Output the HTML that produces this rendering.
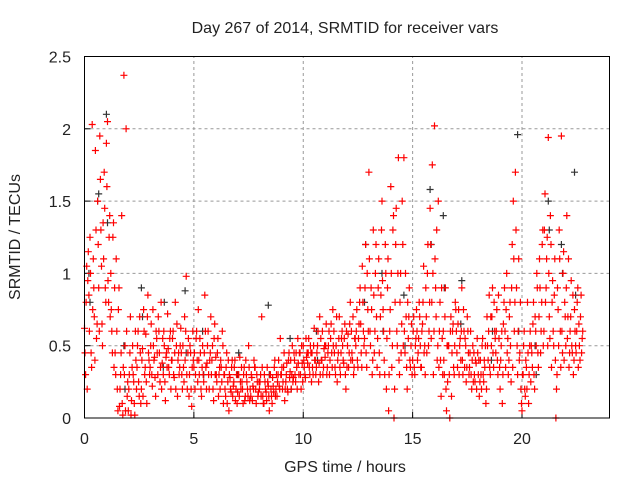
<!DOCTYPE html>
<html><head><meta charset="utf-8"><style>
body{margin:0;background:#fff;}
svg text{font-family:"Liberation Sans",sans-serif;font-size:16px;fill:#222;}
</style></head><body>
<svg id="chart" width="640" height="480" xmlns="http://www.w3.org/2000/svg">
<text x="345" y="33" text-anchor="middle">Day 267 of 2014, SRMTID for receiver vars</text>
<text x="345" y="472" text-anchor="middle">GPS time / hours</text>
<text transform="translate(20,237) rotate(-90)" text-anchor="middle">SRMTID / TECUs</text>
<g id="grid"></g>
<g id="ticks"></g>
<g id="black"></g>
<g id="red"></g>
<rect x="84.5" y="56.5" width="525" height="361.5" fill="none" stroke="#000" stroke-width="1"/>
</svg>
<script>
const xTicks=[0,5,10,15,20];
const yTicks=[0,0.5,1,1.5,2,2.5];
const yTickLabels=["0","0.5","1","1.5","2","2.5"];
const redGroups=[
[0.0,.62,.3,1.05,.95],[0.2,.85,1.25,.45,2.03],[0.4,1.1,.7,1.85,.55],[0.6,1.5,.9,1.95,1.3],[0.8,.65,1.35,1.7,.9],
[1.0,1.9,2.05,.8,1.4],[1.2,1.0,.6,1.25,.35],[1.4,.45,1.1,.2,.75],[1.6,.08,.3,1.4,.02],[1.8,2.37,.5,2.0,.15],
[2.0,.05,.3,.7,.12],[2.2,.5,.25,.02,.4],[2.4,.35,.6,.15,.45],[2.6,.2,.48,.75,.3],[2.8,.58,.1,.85,.4],
[3.0,.35,.65,.22,.5],[3.2,.42,.15,.55,.3],[3.4,.6,.25,.8,.38],[3.6,.3,.5,.12,.45],[3.8,.72,.35,.55,.2],
[4.0,.4,.6,.28,.8],[4.2,.5,.15,.45,.35],[4.4,.62,.3,.5,.25],[4.6,.4,.98,.2,.55],[4.8,.3,.45,.08,.6],
[5.0,.35,.2,.55,.4],[5.2,.75,.3,.45,.15],[5.4,.5,.25,.85,.35],[5.6,.38,.6,.2,.45],[5.8,.3,.5,.12,.65],
[6.0,.42,.25,.55,.3],[6.2,.2,.35,.6,.1],[6.4,.3,.15,.45,.25],[6.6,.05,.28,.18,.4],[6.8,.22,.35,.12,.3],
[7.0,.18,.3,.42,.2],[7.2,.25,.1,.35,.15],[7.4,.3,.2,.5,.12],[7.6,.15,.28,.22,.4],[7.8,.35,.1,.25,.18],
[8.0,.2,.3,.7,.15],[8.2,.1,.25,.18,.35],[8.4,.22,.05,.3,.15],[8.6,.28,.18,.4,.2],[8.8,.15,.3,.22,.55],
[9.0,.3,.2,.35,.12],[9.2,.25,.38,.18,.45],[9.4,.32,.2,.5,.28],[9.6,.4,.25,.35,.55],[9.8,.3,.45,.2,.38],
[10.0,.5,.35,.28,.42],[10.2,.38,.55,.3,.45],[10.4,.45,.3,.62,.4],[10.6,.35,.5,.25,.7],[10.8,.55,.4,.3,.48],
[11.0,.42,.65,.35,.5],[11.2,.3,.55,.45,.75],[11.4,.6,.35,.5,.25],[11.6,.45,.7,.3,.55],[11.8,.5,.38,.65,.2],
[12.0,.35,.58,.45,.8],[12.2,.6,.4,.3,.55],[12.4,.5,.75,.35,.65],[12.6,.9,.45,1.05,.6],[12.8,.55,1.2,.35,.75],
[13.0,1.7,.6,.9,.3],[13.2,1.3,.45,1.0,.7],[13.4,.55,1.1,.3,.85],[13.6,1.5,.75,.4,1.2],[13.8,.2,.9,.05,.6],
[14.0,1.6,.35,1.3,.0],[14.2,.8,1.45,.5,1.8],[14.4,.3,1.0,.65,1.2],[14.6,1.8,.45,.7,.2],[14.8,.55,.9,.35,.65],
[15.0,.4,.7,.3,.55],[15.2,.6,.45,.8,.5],[15.4,.35,.65,1.05,.5],[15.6,.9,.45,1.2,.6],[15.8,1.45,.55,1.75,.3],
[16.0,2.02,.9,1.3,.5],[16.2,.35,.8,.15,.55],[16.4,.6,.3,.9,.05],[16.6,.25,.5,.0,.7],[16.8,.45,.65,.3,.8],
[17.0,.6,.35,.75,.5],[17.2,.4,.9,.3,.6],[17.4,.55,.25,.7,.45],[17.6,.35,.6,.2,.5],[17.8,.45,.25,.38,.55],
[18.0,.3,.15,.4,.2],[18.2,.55,.25,.35,.1],[18.4,.7,.4,.85,.3],[18.6,.5,.9,.35,.6],[18.8,.45,.75,.3,.55],
[19.0,.2,.5,.1,.65],[19.2,.9,.35,1.0,.55],[19.4,.4,.8,.25,1.2],[19.6,1.5,.6,1.7,.9],[19.8,.3,1.1,.45,.2],
[20.0,.05,.3,.6,.15],[20.2,.35,.8,.1,.5],[20.4,.25,.45,.65,.3],[20.6,.7,.5,.9,.35],[20.8,1.1,.45,.8,1.3],
[21.0,.6,1.55,.9,1.25],[21.2,1.94,.7,1.4,.35],[21.4,.95,.5,1.1,.0],[21.6,.3,.75,1.3,.6],[21.8,1.95,.45,1.15,.8],
[22.0,.5,1.4,.7,.35],[22.2,.6,.95,.45,.3],[22.4,.75,.5,.6,.9],[22.6,.65,.4,.85,.55]
];
const redGroups2=[
[0.025,.45,.8,.2,1.15],[0.225,.6,1.0,.35,.75],[0.425,.9,.4,1.3,.65],[0.625,1.2,.6,1.65,1.05],[0.825,.5,1.1,1.45,.8],
[1.025,1.6,.95,1.25,.7],[1.225,.75,.45,1.35,.9],[1.425,.3,.6,.05,.9],[1.625,.2,.45,.1,.35],[1.825,.3,.05,.6,.25],
[2.025,.2,.45,.02,.35],[2.225,.3,.1,.6,.2],[2.425,.5,.25,.7,.1],[2.625,.4,.15,.6,.35],[2.825,.25,.7,.45,.3],
[3.025,.5,.3,.75,.4],[3.225,.28,.6,.45,.7],[3.425,.45,.35,.2,.55],[3.625,.6,.25,.42,.35],[3.825,.48,.3,.6,.4],
[4.025,.55,.3,.45,.2],[4.225,.65,.4,.3,.5],[4.425,.45,.2,.35,.7],[4.625,.6,.3,.45,.15],[4.825,.5,.2,.35,.4],
[5.025,.45,.3,.6,.25],[5.225,.4,.55,.2,.35],[5.425,.3,.45,.6,.2],[5.625,.5,.3,.4,.7],[5.825,.4,.2,.55,.3],
[6.025,.3,.45,.15,.35],[6.225,.4,.25,.5,.3],[6.425,.2,.35,.1,.4],[6.625,.3,.2,.35,.15],[6.825,.25,.4,.2,.1],
[7.025,.3,.15,.25,.35],[7.225,.2,.3,.12,.4],[7.425,.25,.15,.35,.2],[7.625,.3,.12,.2,.35],[7.825,.2,.3,.15,.25],
[8.025,.25,.15,.35,.1],[8.225,.3,.2,.12,.25],[8.425,.15,.3,.2,.1],[8.625,.22,.35,.15,.3],[8.825,.25,.4,.2,.3],
[9.025,.35,.25,.45,.2],[9.225,.3,.2,.4,.28],[9.425,.4,.3,.25,.45],[9.625,.3,.45,.2,.38],[9.825,.45,.3,.5,.25],
[10.025,.4,.3,.55,.45],[10.225,.45,.35,.5,.25],[10.425,.35,.5,.4,.3],[10.625,.45,.6,.38,.3],[10.825,.4,.6,.35,.5],
[11.025,.5,.3,.45,.6],[11.225,.4,.65,.35,.5],[11.425,.45,.3,.7,.4],[11.625,.55,.35,.45,.6],[11.825,.4,.55,.3,.6],
[12.025,.5,.35,.65,.4],[12.225,.45,.7,.35,.55],[12.425,.6,.4,.55,.8],[12.625,.65,.35,.8,.5],[12.825,.9,.45,1.0,.6],
[13.025,1.1,.5,.75,.4],[13.225,.85,.6,1.2,.35],[13.425,.9,.45,.7,1.3],[13.625,.95,.6,.3,1.0],[13.825,.55,1.1,.3,.75],
[14.025,1.0,.5,1.4,.2],[14.225,1.2,.6,1.0,.4],[14.425,.8,.45,1.5,.5],[14.625,.6,1.0,.35,.8],[14.825,.7,.4,.5,.3],
[15.025,.6,.35,.5,.75],[15.225,.4,.55,.7,.35],[15.425,.6,.8,.45,.3],[15.625,.7,1.0,.5,.8],[15.825,1.2,.8,1.0,.6],
[16.025,1.1,.7,.4,1.5],[16.225,.6,.4,.9,.3],[16.425,.4,.7,.2,.5],[16.625,.5,.3,.6,.15],[16.825,.6,.35,.5,.75],
[17.025,.45,.65,.3,.55],[17.225,.6,.4,.75,.35],[17.425,.5,.35,.6,.3],[17.625,.45,.3,.4,.25],[17.825,.3,.4,.2,.45],
[18.025,.4,.25,.3,.5],[18.225,.3,.4,.5,.2],[18.425,.5,.6,.35,.7],[18.625,.7,.45,.8,.55],[18.825,.6,.4,.85,.35],
[19.025,.4,.6,.3,.8],[19.225,.6,.75,.45,.3],[19.425,.7,.5,.9,.35],[19.625,1.1,.8,1.3,.5],[19.825,.6,.4,.8,.1],
[20.025,.3,.5,.2,.4],[20.225,.2,.45,.3,.6],[20.425,.5,.35,.8,.2],[20.625,.6,1.0,.45,.7],[20.825,.9,.6,1.2,.5],
[21.025,1.3,.8,1.1,.5],[21.225,1.0,.55,1.2,.8],[21.425,.6,.85,.4,.2],[21.625,.9,.5,1.1,.35],[21.825,.6,1.0,.4,.7],
[22.025,.9,.55,1.1,.45],[22.225,.7,.5,.85,.4],[22.425,.6,.45,.8,.35],[22.625,.5,.7,.45,.6]
];
const blackGroups=[
[0.2,1.0,.8],[0.6,1.5,1.55],[1.0,2.1,1.35],[1.8,.5,.2],[2.6,.9,.7],[3.6,.35,.8],[4.6,.88,.45],[5.4,.6,.3],
[7.0,.3,.45],[8.4,.78,.3],[9.4,.55,.2],[10.6,.6,.4],[12.8,.8,1.2],[13.6,1.0,.6],[14.6,.85,.5],[15.8,1.58,1.2],
[16.4,1.4,.9],[17.2,.65,.95],[18.6,.4,.6],[19.8,1.96,.6],[20.6,.5,.3],[21.2,1.5,1.3],[21.8,1.2,1.0],[22.4,1.7,.85]
];
const X0=84.5,X1=609.5,Y0=418,Y1=56.5,XMAX=24,YMAX=2.5;
function xs(v){return X0+(X1-X0)*v/XMAX;}
function ys(v){return Y0-(Y0-Y1)*v/YMAX;}
const NS="http://www.w3.org/2000/svg";
function mk(tag,attrs,parent){const e=document.createElementNS(NS,tag);for(const k in attrs)e.setAttribute(k,attrs[k]);parent.appendChild(e);return e;}
const grid=document.getElementById('grid'),ticks=document.getElementById('ticks');
xTicks.forEach(t=>{const x=xs(t);
 if(t>0){const g=mk('line',{x1:x,x2:x,y1:Y0,y2:Y1,stroke:'#999','stroke-dasharray':'3,3'},grid);
 
 }
 const tl=mk('line',{x1:x,x2:x,y1:Y0,y2:Y0-6,stroke:'#000'},ticks);
 
 
 const tt=mk('text',{x:x,y:444,'text-anchor':'middle'},ticks);tt.textContent=String(t);
 
 
});
yTicks.forEach((t,i)=>{const y=ys(t);
 if(t>0&&t<YMAX){const g=mk('line',{x1:X0,x2:X1,y1:y,y2:y,stroke:'#999','stroke-dasharray':'3,3'},grid);
 
 }
 const tl=mk('line',{x1:X0,x2:X0+6,y1:y,y2:y,stroke:'#000'},ticks);
 
 
 const tt=mk('text',{x:71,y:y+6,'text-anchor':'end'},ticks);tt.textContent=yTickLabels[i];
 
 
});
function plot(groups,parentId,color,name){
 const p=document.getElementById(parentId);let d='';
 groups.forEach(g=>{const t=g[0];for(let i=1;i<g.length;i++){
  const x=xs(t+(i-1)*0.05),y=ys(g[i]);
  d+=`M${(x-3.5).toFixed(1)} ${y.toFixed(1)}h7M${x.toFixed(1)} ${(y-3.5).toFixed(1)}v7`;}});
 const path=mk('path',{d:d,stroke:color,'stroke-width':1.2,fill:'none'},p);
 
 
}
plot(blackGroups,'black','#333333','black-points');
plot(redGroups,'red','#ff0000','red-points');
plot(redGroups2,'red','#ff0000','red-points-extra');
</script>
</body></html>
